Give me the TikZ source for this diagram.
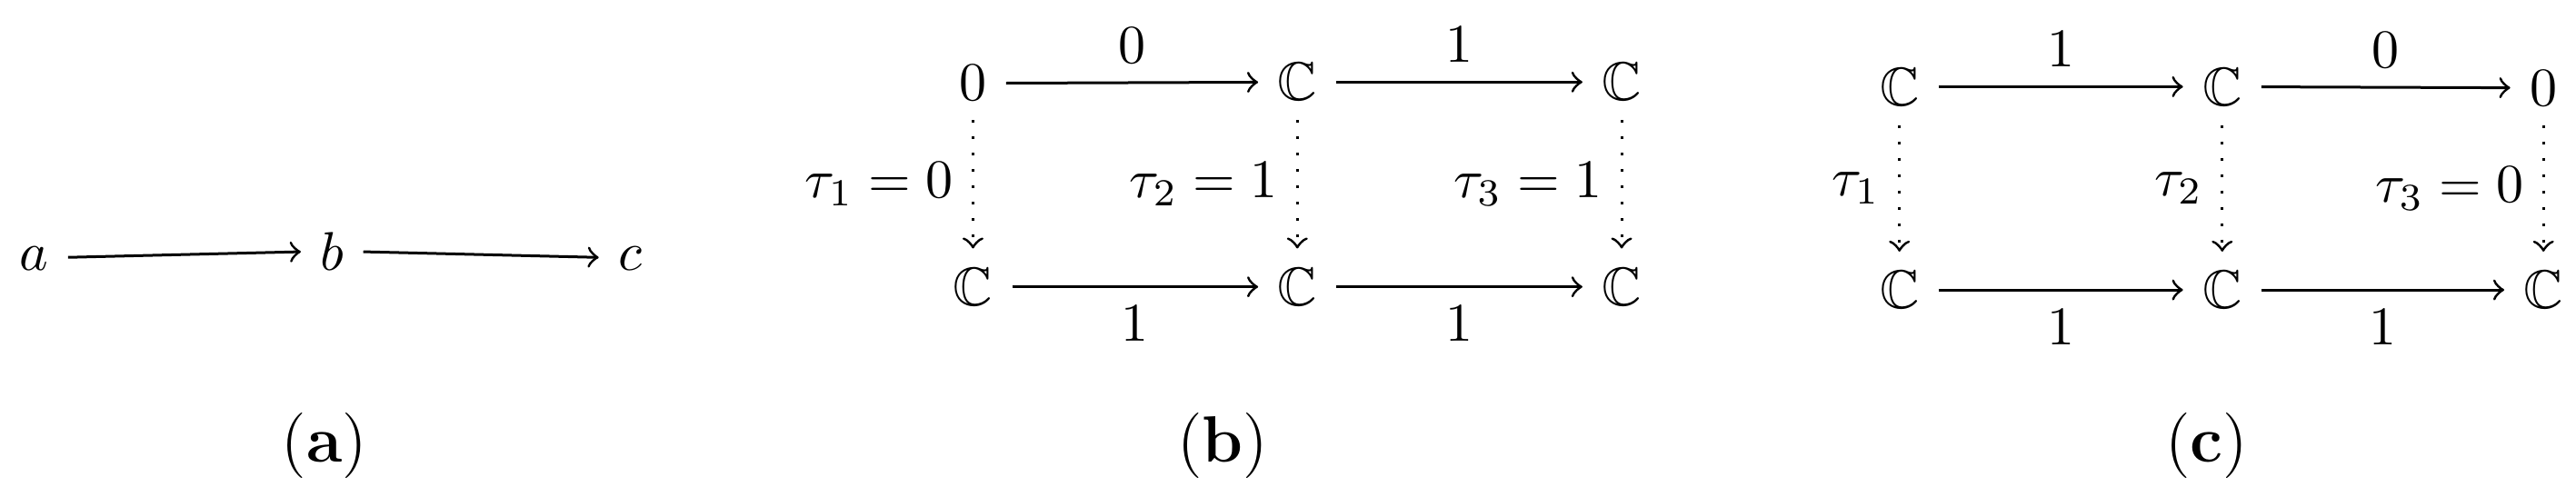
\documentclass[tikz,border=0pt]{standalone}
\usepackage{amssymb}
\begin{document}
\begin{tikzpicture}[line width=0.5pt, obj/.style={anchor=base}, tau/.style={->,dash pattern=on 0.5pt off 2.5pt}]
        \useasboundingbox (0,0) rectangle (16.6,3.2);

        % (a)
        \coordinate (A) at (0.22,1.46);
        \coordinate (B) at (2.14,1.46);
        \coordinate (C) at (4.06,1.46);

        \node [obj] (a) at (A) {$a$};
        \node [obj] (b) at (B) {$b$};
        \node [obj] (c) at (C) {$c$};

        \draw [->] (a) -- (b);
        \draw [->] (b) -- (c);

        \node [obj] (capa) at (2.09,0.22) {\large(\textbf{a})};

        % (b)
        \coordinate (PI) at (6.27,2.55);
        \coordinate (PII) at (8.36,2.55);
        \coordinate (PIII) at (10.45,2.55);
        \coordinate (QI) at (6.27,1.23);
        \coordinate (QII) at (8.36,1.23);
        \coordinate (QIII) at (10.45,1.23);

        \node [obj] (p1) at (PI) {$0$};
        \node [obj] (p2) at (PII) {$\mathbb{C}$};
        \node [obj] (p3) at (PIII) {$\mathbb{C}$};
        \node [obj] (q1) at (QI) {$\mathbb{C}$};
        \node [obj] (q2) at (QII) {$\mathbb{C}$};
        \node [obj] (q3) at (QIII) {$\mathbb{C}$};

        \draw [->] (p1) -- node [above] (p12) {$0$} (p2);
        \draw [->] (p2) -- node [above] (p23) {$1$} (p3);
        \draw [->] (q1) -- node [below] (q12) {$1$} (q2);
        \draw [->] (q2) -- node [below] (q23) {$1$} (q3);
        \draw [tau] (p1) -- node [left] (t1) {$\tau_1 = 0$} (q1);
        \draw [tau] (p2) -- node [left] (t2) {$\tau_2 = 1$} (q2);
        \draw [tau] (p3) -- node [left] (t3) {$\tau_3 = 1$} (q3);

        \node [obj] (capb) at (7.88,0.22) {\large(\textbf{b})};

        % (c)
        \coordinate (RI) at (12.24,2.52);
        \coordinate (RII) at (14.32,2.52);
        \coordinate (RIII) at (16.39,2.52);
        \coordinate (SI) at (12.24,1.21);
        \coordinate (SII) at (14.32,1.21);
        \coordinate (SIII) at (16.39,1.21);

        \node [obj] (r1) at (RI) {$\mathbb{C}$};
        \node [obj] (r2) at (RII) {$\mathbb{C}$};
        \node [obj] (r3) at (RIII) {$0$};
        \node [obj] (s1) at (SI) {$\mathbb{C}$};
        \node [obj] (s2) at (SII) {$\mathbb{C}$};
        \node [obj] (s3) at (SIII) {$\mathbb{C}$};

        \draw [->] (r1) -- node [above] (r12) {$1$} (r2);
        \draw [->] (r2) -- node [above] (r23) {$0$} (r3);
        \draw [->] (s1) -- node [below] (s12) {$1$} (s2);
        \draw [->] (s2) -- node [below] (s23) {$1$} (s3);
        \draw [tau] (r1) -- node [left] (u1) {$\tau_1$} (s1);
        \draw [tau] (r2) -- node [left] (u2) {$\tau_2$} (s2);
        \draw [tau] (r3) -- node [left] (u3) {$\tau_3 = 0$} (s3);

        \node [obj] (capc) at (14.22,0.22) {\large(\textbf{c})};
    \end{tikzpicture}
\end{document}
